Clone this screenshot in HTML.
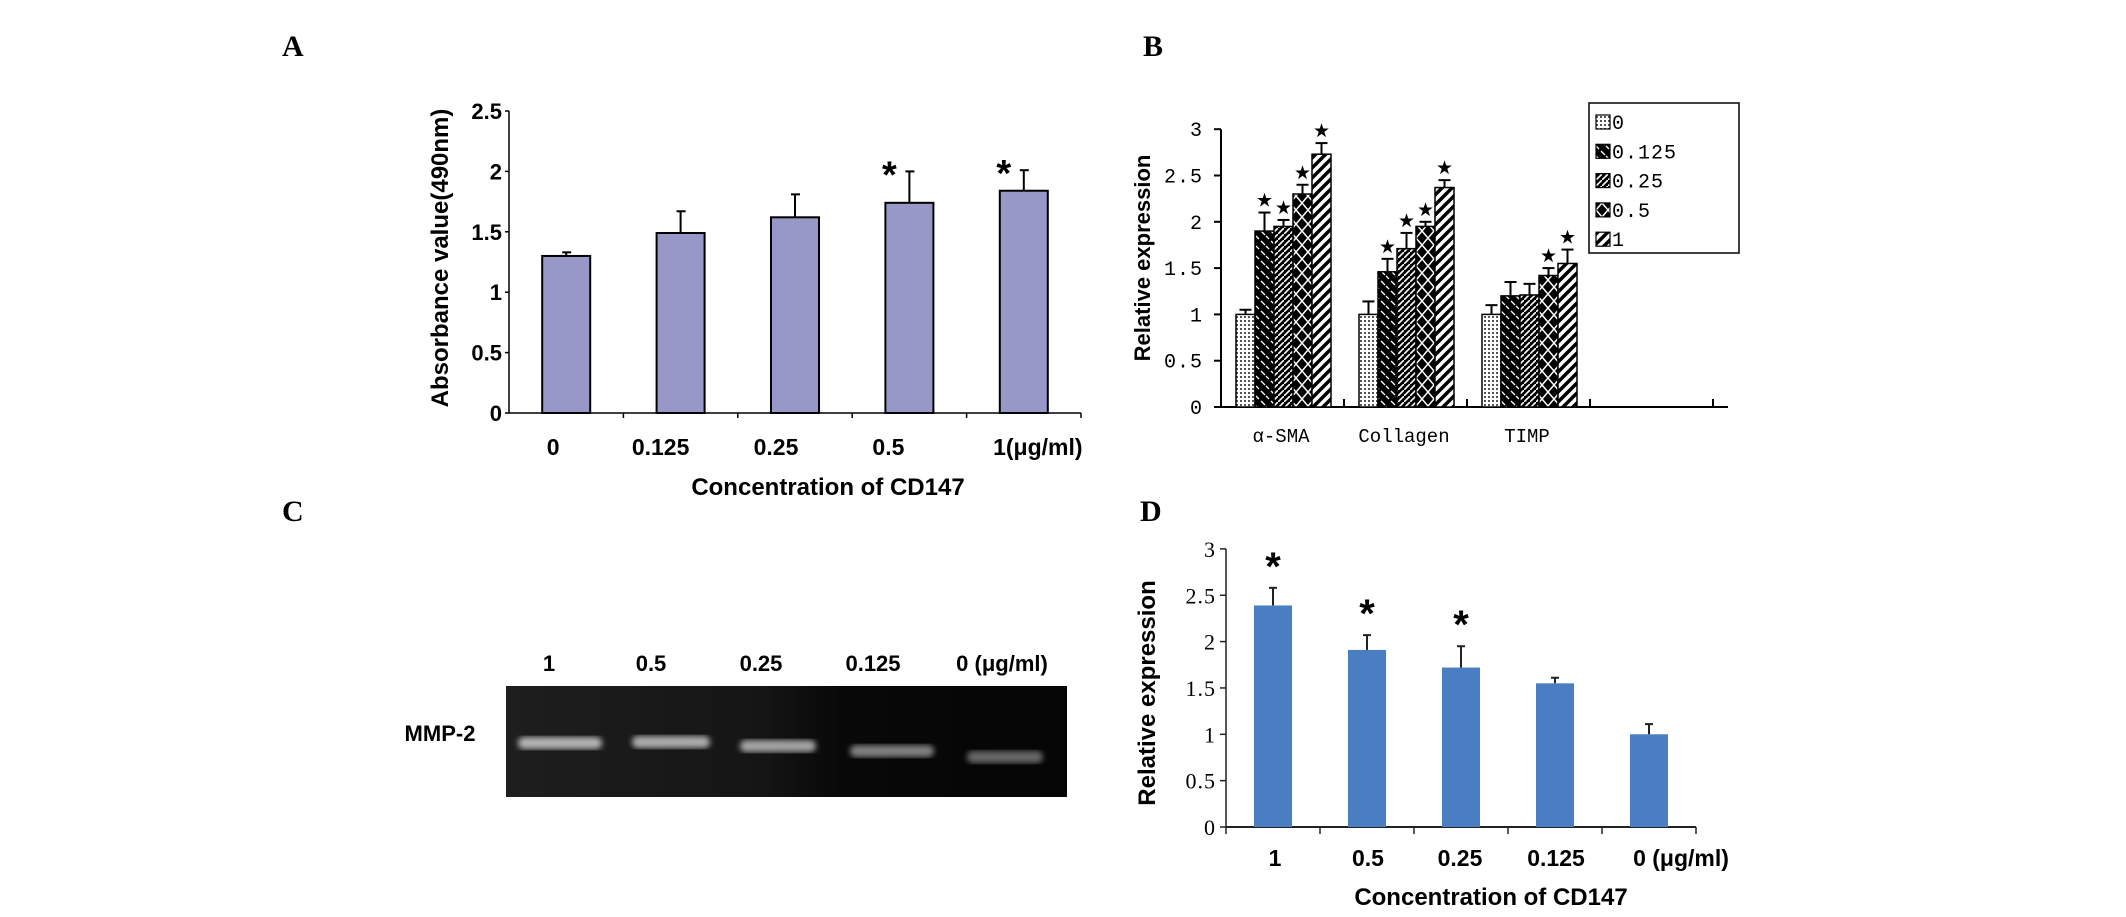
<!DOCTYPE html>
<html><head><meta charset="utf-8"><style>
html,body{margin:0;padding:0;background:#fff;}
svg{display:block;}
</style></head><body>
<svg id="fig" width="2126" height="917" viewBox="0 0 2126 917" xmlns="http://www.w3.org/2000/svg">
<defs>
<pattern id="p0" width="4" height="4" patternUnits="userSpaceOnUse"><rect width="4" height="4" fill="#fff"/><rect width="2" height="2" fill="#555"/></pattern>
<pattern id="p1" width="10" height="10" patternUnits="userSpaceOnUse"><rect width="10" height="10" fill="#000"/><path d="M1 1 L5 5 M6 6 L9 9" stroke="#fff" stroke-width="1.3"/></pattern>
<pattern id="p2" width="6" height="6" patternUnits="userSpaceOnUse"><rect width="6" height="6" fill="#000"/><path d="M0 6 L6 0" stroke="#fff" stroke-width="1.6"/></pattern>
<pattern id="p3" width="12" height="14" patternUnits="userSpaceOnUse"><rect width="12" height="14" fill="#000"/><path d="M0 0 L6 7 L0 14 M12 0 L6 7 L12 14" stroke="#fff" stroke-width="1.5" fill="none"/></pattern>
<pattern id="p4" width="10" height="10" patternUnits="userSpaceOnUse"><rect width="10" height="10" fill="#fff"/><path d="M-2 12 L12 -2 M-7 7 L7 -7 M3 17 L17 3" stroke="#000" stroke-width="3.5"/></pattern>
<filter id="blur"><feGaussianBlur stdDeviation="3"/></filter>
<linearGradient id="gelgrad" x1="0" x2="1" y1="0" y2="0"><stop offset="0" stop-color="#1e1e1e"/><stop offset="0.45" stop-color="#151515"/><stop offset="0.6" stop-color="#080808"/><stop offset="1" stop-color="#050505"/></linearGradient>
</defs>
<g font-family="'Liberation Serif',serif" font-weight="bold" font-size="30">
<text x="282" y="56">A</text>
<text x="1143" y="56">B</text>
<text x="282" y="521">C</text>
<text x="1140" y="521">D</text>
</g>
<g id="pa"></g>
<g id="pb"></g>
<g id="pc"></g>
<g id="pd"></g>
</svg>
<script>
// Panel A data
const aCats = ["0","0.125","0.25","0.5","1(μg/ml)"];
const aVals = [1.30,1.49,1.62,1.74,1.84];
const aErr = [0.03,0.18,0.19,0.26,0.17];
const aStar = [false,false,false,true,true];
const aTicks = [0,0.5,1,1.5,2,2.5];
// Panel B data
const bGroups = ["α-SMA","Collagen","TIMP"];
const bSeries = ["0","0.125","0.25","0.5","1"];
const bVals = [[1.0,1.9,1.95,2.3,2.73],[1.0,1.46,1.71,1.95,2.37],[1.0,1.2,1.21,1.42,1.55]];
const bErr = [[0.05,0.2,0.07,0.1,0.12],[0.14,0.14,0.17,0.05,0.08],[0.1,0.15,0.12,0.08,0.15]];
const bStar = [[false,true,true,true,true],[false,true,true,true,true],[false,false,false,true,true]];
const bTicks = ["0","0.5","1","1.5","2","2.5","3"];
// Panel C data
const cLanes = ["1","0.5","0.25","0.125","0 (μg/ml)"];
const cIntensity = [0.85,0.82,0.78,0.62,0.5];
// Panel D data
const dCats = ["1","0.5","0.25","0.125","0 (μg/ml)"];
const dVals = [2.39,1.91,1.72,1.55,1.0];
const dErr = [0.19,0.16,0.23,0.06,0.11];
const dStar = [true,true,true,false,false];
const dTicks = ["0","0.5","1","1.5","2","2.5","3"];

const NS="http://www.w3.org/2000/svg";
function mk(parent,tag,attrs,text){const e=document.createElementNS(NS,tag);for(const k in attrs)e.setAttribute(k,attrs[k]);if(text!==undefined)e.textContent=text;parent.appendChild(e);return e;}

// ---------- Panel A ----------
(function(){
const g=document.getElementById('pa');
const x0=509,x1=1081,y0=413,unit=120.8;
const band=(x1-x0)/aCats.length;
const y=v=>y0-v*unit;
let e;
e=mk(g,'line',{x1:x0,y1:y(2.5),x2:x0,y2:y0,stroke:'#000','stroke-width':1.5});

e=mk(g,'line',{x1:x0,y1:y0,x2:x1,y2:y0,stroke:'#000','stroke-width':1.5});

aTicks.forEach(t=>{
 e=mk(g,'line',{x1:x0-4,y1:y(t),x2:x0,y2:y(t),stroke:'#000','stroke-width':1.5});
 
 e=mk(g,'text',{x:x0-7,y:y(t)+8,'text-anchor':'end','font-family':"'Liberation Sans',sans-serif",'font-weight':'bold','font-size':22},String(t));
 
});
for(let i=1;i<=aCats.length;i++){
 e=mk(g,'line',{x1:x0+band*i,y1:y0,x2:x0+band*i,y2:y0+5,stroke:'#000','stroke-width':1.5});
 
}
const labX=[-13,-20,-19,-21,14];
aCats.forEach((c,i)=>{
 const cx=x0+band*(i+0.5),w=48;
 e=mk(g,'line',{x1:cx,y1:y(aVals[i]),x2:cx,y2:y(aVals[i]+aErr[i]),stroke:'#000','stroke-width':2});
 
 e=mk(g,'line',{x1:cx-4,y1:y(aVals[i]+aErr[i]),x2:cx+5,y2:y(aVals[i]+aErr[i]),stroke:'#000','stroke-width':2});
 
 e=mk(g,'rect',{x:cx-w/2,y:y(aVals[i]),width:w,height:aVals[i]*unit,fill:'#9898c8',stroke:'#000','stroke-width':2});
 
 if(aStar[i]){
  e=mk(g,'text',{x:cx-20,y:y(aVals[i]+aErr[i])+16,'text-anchor':'middle','font-family':"'Liberation Sans',sans-serif",'font-weight':'bold','font-size':38},'*');
  
 }
 e=mk(g,'text',{x:cx+labX[i],y:455,'text-anchor':'middle','font-family':"'Liberation Sans',sans-serif",'font-weight':'bold','font-size':23},c);
 
});
e=mk(g,'text',{x:828,y:495,'text-anchor':'middle','font-family':"'Liberation Sans',sans-serif",'font-weight':'bold','font-size':24},'Concentration of CD147');

e=mk(g,'text',{x:0,y:0,transform:'translate(448,258) rotate(-90)','text-anchor':'middle','font-family':"'Liberation Sans',sans-serif",'font-weight':'bold','font-size':24},'Absorbance value(490nm)');

})();

// ---------- Panel B ----------
(function(){
const g=document.getElementById('pb');
const x0=1221,band=123,y0=407,unit=92.6,bw=19;
const y=v=>y0-v*unit;
const sf="'Liberation Mono','Noto Sans CJK SC',monospace";
let e;
e=mk(g,'line',{x1:x0,y1:y(3),x2:x0,y2:y0,stroke:'#000','stroke-width':2});

e=mk(g,'line',{x1:x0,y1:y0,x2:1728,y2:y0,stroke:'#000','stroke-width':2});

bTicks.forEach(t=>{
 const v=parseFloat(t);
 e=mk(g,'line',{x1:x0-7,y1:y(v),x2:x0,y2:y(v),stroke:'#000','stroke-width':2});
 
 e=mk(g,'text',{x:x0-18,y:y(v)+7,'text-anchor':'end','font-family':sf,'font-size':20,'letter-spacing':'1'},t);
 
});
for(let i=1;i<=4;i++){
 e=mk(g,'line',{x1:x0+band*i,y1:y0,x2:x0+band*i,y2:y0-8,stroke:'#000','stroke-width':2});
 
}
bGroups.forEach((grp,gi)=>{
 const gx=x0+band*gi+15;
 bSeries.forEach((s,si)=>{
  const v=bVals[gi][si],er=bErr[gi][si],bx=gx+si*bw,cx=bx+bw/2;
  e=mk(g,'line',{x1:cx,y1:y(v),x2:cx,y2:y(v+er),stroke:'#000','stroke-width':2});
  
  e=mk(g,'line',{x1:cx-6,y1:y(v+er),x2:cx+6,y2:y(v+er),stroke:'#000','stroke-width':2});
  
  e=mk(g,'rect',{x:bx,y:y(v),width:bw,height:v*unit,fill:'url(#p'+si+')',stroke:'#000','stroke-width':1.5});
  
  if(bStar[gi][si]){
   e=mk(g,'text',{x:cx,y:y(v+er)-6,'text-anchor':'middle','font-family':"'DejaVu Sans',sans-serif",'font-size':19},'★');
   
  }
 });
 e=mk(g,'text',{x:x0+band*gi+60,y:442,'text-anchor':'middle','font-family':sf,'font-size':19},grp);
 
});
e=mk(g,'text',{x:0,y:0,transform:'translate(1150,258) rotate(-90)','text-anchor':'middle','font-family':"'Liberation Sans',sans-serif",'font-weight':'bold','font-size':22},'Relative expression');

const lg=mk(g,'g',{});

e=mk(lg,'rect',{x:1589,y:103,width:150,height:150,fill:'#fff',stroke:'#000','stroke-width':1.5});

bSeries.forEach((s,si)=>{
 const ly=122+si*29.3;
 e=mk(lg,'rect',{x:1596,y:ly-7,width:14,height:14,fill:'url(#p'+si+')',stroke:'#000','stroke-width':1.2});
 
 e=mk(lg,'text',{x:1612,y:ly+7,'font-family':sf,'font-size':20,'letter-spacing':'1'},s);
 
});
})();

// ---------- Panel C ----------
(function(){
const g=document.getElementById('pc');
let e;
e=mk(g,'rect',{x:506,y:686,width:561,height:111,fill:'url(#gelgrad)'});

const lx=[560,671,778,892,1005],ly=[743,742,746,751,757],lw=[84,78,76,84,76];
cLanes.forEach((l,i)=>{
 const c=Math.round(255*cIntensity[i]);
 e=mk(g,'rect',{x:lx[i]-lw[i]/2,y:ly[i]-6,width:lw[i],height:12,rx:6,fill:'rgb('+c+','+c+','+c+')',filter:'url(#blur)',opacity:0.8});
 
 e=mk(g,'text',{x:[549,651,761,873,1002][i],y:671,'text-anchor':'middle','font-family':"'Liberation Sans',sans-serif",'font-weight':'bold','font-size':22},l);
 
});
e=mk(g,'text',{x:440,y:741,'text-anchor':'middle','font-family':"'Liberation Sans',sans-serif",'font-weight':'bold','font-size':22},'MMP-2');

})();

// ---------- Panel D ----------
(function(){
const g=document.getElementById('pd');
const x0=1226,band=94,y0=827,unit=92.7,bw=38;
const y=v=>y0-v*unit;
let e;
e=mk(g,'line',{x1:x0,y1:y(3),x2:x0,y2:y0,stroke:'#222','stroke-width':1.5});

e=mk(g,'line',{x1:x0,y1:y0,x2:x0+band*5,y2:y0,stroke:'#222','stroke-width':2});

dTicks.forEach(t=>{
 const v=parseFloat(t);
 e=mk(g,'line',{x1:x0-6,y1:y(v),x2:x0,y2:y(v),stroke:'#222','stroke-width':1.5});
 
 e=mk(g,'text',{x:x0-10,y:y(v)+8,'text-anchor':'end','font-family':"'Liberation Serif',serif",'font-size':22,'letter-spacing':'1'},t);
 
});
for(let i=0;i<=5;i++){
 e=mk(g,'line',{x1:x0+band*i,y1:y0,x2:x0+band*i,y2:y0+7,stroke:'#222','stroke-width':1.5});
 
}
const labDx=[2,1,-1,1,32];
dCats.forEach((c,i)=>{
 const cx=x0+band*(i+0.5);
 e=mk(g,'line',{x1:cx,y1:y(dVals[i]),x2:cx,y2:y(dVals[i]+dErr[i]),stroke:'#222','stroke-width':2});
 
 e=mk(g,'line',{x1:cx-4,y1:y(dVals[i]+dErr[i]),x2:cx+4,y2:y(dVals[i]+dErr[i]),stroke:'#222','stroke-width':2});
 
 e=mk(g,'rect',{x:cx-bw/2,y:y(dVals[i]),width:bw,height:dVals[i]*unit,fill:'#4a7ec3'});
 
 if(dStar[i]){
  e=mk(g,'text',{x:cx,y:y(dVals[i]+dErr[i])-8,'text-anchor':'middle','font-family':"'Liberation Sans',sans-serif",'font-weight':'bold','font-size':40},'*');
  
 }
 e=mk(g,'text',{x:cx+labDx[i],y:866,'text-anchor':'middle','font-family':"'Liberation Sans',sans-serif",'font-weight':'bold','font-size':23},c);
 
});
e=mk(g,'text',{x:1491,y:905,'text-anchor':'middle','font-family':"'Liberation Sans',sans-serif",'font-weight':'bold','font-size':24},'Concentration of CD147');

e=mk(g,'text',{x:0,y:0,transform:'translate(1155,693) rotate(-90)','text-anchor':'middle','font-family':"'Liberation Sans',sans-serif",'font-weight':'bold','font-size':24},'Relative expression');

})();
</script>
</body></html>
